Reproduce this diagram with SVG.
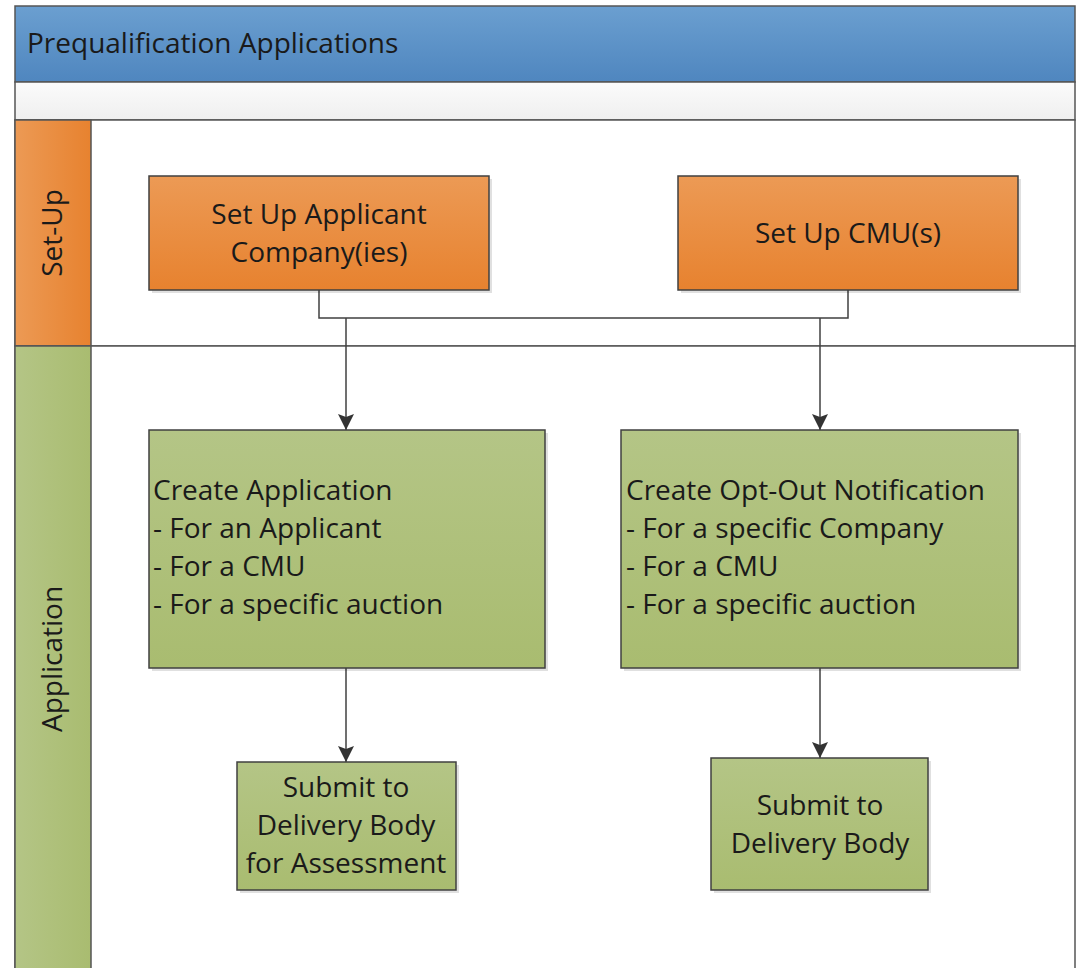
<svg xmlns="http://www.w3.org/2000/svg" width="1078" height="968" viewBox="0 0 1078 968">
<defs>
<linearGradient id="gBlue" x1="0" y1="0" x2="0" y2="1"><stop offset="0" stop-color="#6b9fd0"/><stop offset="1" stop-color="#4f86bf"/></linearGradient>
<linearGradient id="gOrange" x1="0" y1="0" x2="0" y2="1"><stop offset="0" stop-color="#ec9a55"/><stop offset="1" stop-color="#e7822f"/></linearGradient>
<linearGradient id="gOrangeH" x1="0" y1="0" x2="1" y2="0"><stop offset="0" stop-color="#ec9a55"/><stop offset="1" stop-color="#e7822f"/></linearGradient>
<linearGradient id="gGreen" x1="0" y1="0" x2="0" y2="1"><stop offset="0" stop-color="#b4c586"/><stop offset="1" stop-color="#a9bc70"/></linearGradient>
<linearGradient id="gGreenH" x1="0" y1="0" x2="1" y2="0"><stop offset="0" stop-color="#b4c586"/><stop offset="1" stop-color="#a9bc70"/></linearGradient>
<linearGradient id="gGray" x1="0" y1="0" x2="0" y2="1"><stop offset="0" stop-color="#fbfbfb"/><stop offset="1" stop-color="#efefef"/></linearGradient>
<marker id="arr" markerWidth="16" markerHeight="16" refX="16" refY="8" orient="auto" markerUnits="userSpaceOnUse" viewBox="0 0 16 16">
<path d="M0,0 L3,8 L0,16 L16,8 Z" fill="#333"/>
</marker>
</defs>
<style>
.t{font-family:"Open Sans","Noto Sans","Liberation Sans",sans-serif;font-size:28px;fill:#1a1a1a}
.c{text-anchor:middle}
.box{stroke:#404040;stroke-width:1.5}
.sh{fill:#000;opacity:0.12}
.ln{stroke:#404040;stroke-width:1.5;fill:none}
.lane{stroke:#555;stroke-width:1.5}
</style>
<rect x="0" y="0" width="1078" height="968" fill="#fff"/>
<g id="pool">
<rect x="15" y="6" width="1060" height="76" fill="url(#gBlue)" class="lane"/>
<text class="t" x="27" y="53">Prequalification Applications</text>
<rect x="15" y="82" width="1060" height="38" fill="url(#gGray)" class="lane"/>
</g>
<g id="lane-setup">
<rect x="15" y="120" width="1060" height="226" fill="#fff" class="lane"/>
<rect x="15" y="120" width="76" height="226" fill="url(#gOrangeH)" class="lane"/>
<text class="t c" transform="translate(62,233) rotate(-90)">Set-Up</text>
</g>
<g id="lane-application">
<rect x="15" y="346" width="1060" height="640" fill="#fff" class="lane"/>
<rect x="15" y="346" width="76" height="640" fill="url(#gGreenH)" class="lane"/>
<text class="t c" transform="translate(62,659) rotate(-90)">Application</text>
</g>
<g id="connectors">
<polyline class="ln" points="319,290 319,318 848,318 848,290"/>
<line class="ln" x1="346" y1="318" x2="346" y2="430" marker-end="url(#arr)"/>
<line class="ln" x1="820" y1="318" x2="820" y2="430" marker-end="url(#arr)"/>
<line class="ln" x1="346" y1="668" x2="346" y2="762" marker-end="url(#arr)"/>
<line class="ln" x1="820" y1="668" x2="820" y2="758" marker-end="url(#arr)"/>
</g>
<g id="n-setup-applicant">
<rect class="sh" x="152" y="179" width="340" height="114"/>
<rect class="box" x="149" y="176" width="340" height="114" fill="url(#gOrange)"/>
<text class="t c" x="319" y="224">Set Up Applicant</text>
<text class="t c" x="319" y="262">Company(ies)</text>
</g>
<g id="n-setup-cmu">
<rect class="sh" x="681" y="179" width="340" height="114"/>
<rect class="box" x="678" y="176" width="340" height="114" fill="url(#gOrange)"/>
<text class="t c" x="848" y="243">Set Up CMU(s)</text>
</g>
<g id="n-create-application">
<rect class="sh" x="152" y="433" width="396" height="238"/>
<rect class="box" x="149" y="430" width="396" height="238" fill="url(#gGreen)"/>
<text class="t" x="153" y="500">Create Application</text>
<text class="t" x="153" y="538">- For an Applicant</text>
<text class="t" x="153" y="576">- For a CMU</text>
<text class="t" x="153" y="614">- For a specific auction</text>
</g>
<g id="n-create-optout">
<rect class="sh" x="624" y="433" width="397" height="238"/>
<rect class="box" x="621" y="430" width="397" height="238" fill="url(#gGreen)"/>
<text class="t" x="626" y="500">Create Opt-Out Notification</text>
<text class="t" x="626" y="538">- For a specific Company</text>
<text class="t" x="626" y="576">- For a CMU</text>
<text class="t" x="626" y="614">- For a specific auction</text>
</g>
<g id="n-submit-assessment">
<rect class="sh" x="240" y="765" width="219" height="128"/>
<rect class="box" x="237" y="762" width="219" height="128" fill="url(#gGreen)"/>
<text class="t c" x="346" y="797">Submit to</text>
<text class="t c" x="346" y="835">Delivery Body</text>
<text class="t c" x="346" y="873">for Assessment</text>
</g>
<g id="n-submit-delivery">
<rect class="sh" x="714" y="761" width="217" height="132"/>
<rect class="box" x="711" y="758" width="217" height="132" fill="url(#gGreen)"/>
<text class="t c" x="820" y="815">Submit to</text>
<text class="t c" x="820" y="853">Delivery Body</text>
</g>
</svg>
